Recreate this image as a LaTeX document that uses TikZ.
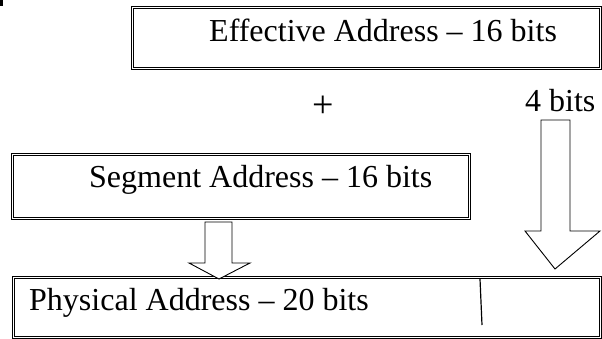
\documentclass[tikz,border=0pt]{standalone}
\usepackage{fontspec}
\setmainfont{Liberation Serif}
\begin{document}
\begin{tikzpicture}[x=1pt,y=-1pt,
  boxst/.style={draw,double,line width=0.7pt,double distance=1.6pt,rectangle,inner sep=0pt,anchor=north west},
  lbl/.style={font=\fontsize{32}{36}\selectfont,inner sep=0pt,anchor=base west},
  blockarrow/.style={draw,line width=0.9pt,line join=miter,fill=white}]
\useasboundingbox (0,0) rectangle (602,339);
% corner mark
\fill (0,0) rectangle (3,6);
% boxes
\node[boxst,minimum width=468pt,minimum height=61pt] (eff) at (132,7) {};
\node[boxst,minimum width=457pt,minimum height=64pt] (seg) at (12,154) {};
\node[boxst,minimum width=587pt,minimum height=60pt] (phy) at (13,277) {};
% texts
\node[lbl] (efft) at (209,42) {Effective Address – 16 bits};
\node[lbl] (segt) at (89,188) {Segment Address – 16 bits};
\node[lbl] (phyt) at (29,310) {Physical Address – 20 bits};
\node[lbl] (fourb) at (525,112) {4 bits};
\node[font=\fontsize{38}{40}\selectfont,inner sep=0pt] (plus) at (323,107) {+};
% divider in physical box
\coordinate (d1) at (480,279);
\coordinate (d2) at (482,325);
\draw[line width=1.2pt] (d1) -- (d2);
% small block arrow
\draw[blockarrow] (205,222) -- (232,222) -- (232,263) -- (250,263) -- (219,279) -- (189,263) -- (205,263) -- cycle;
% big block arrow
\draw[blockarrow] (541,120) -- (570,120) -- (570,231) -- (600,231) -- (555,269) -- (525,231) -- (541,231) -- cycle;
\end{tikzpicture}
\end{document}
